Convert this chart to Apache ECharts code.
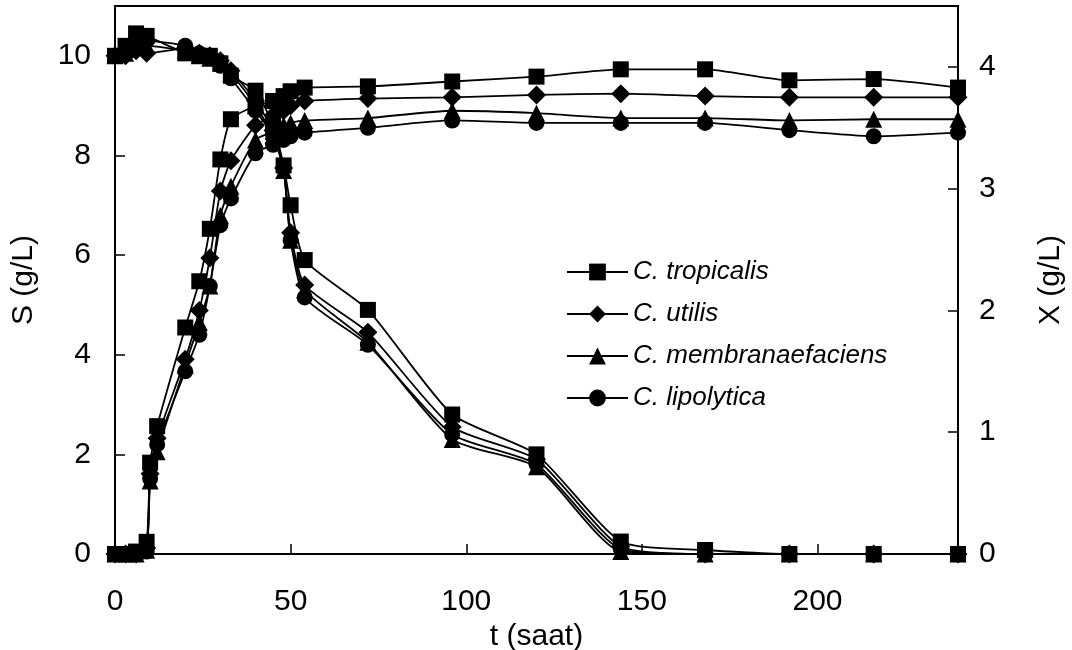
<!DOCTYPE html>
<html>
<head>
<meta charset="utf-8">
<script src="https://cdn.jsdelivr.net/npm/echarts@6/dist/echarts.min.js"></script>
<style>
  html, body { margin: 0; padding: 0; background: #fff; }
  #chart { width: 1072px; height: 650px; }
</style>
</head>
<body>
<div id="chart"></div>
<script>
// Yeast species and their marker shapes
const speciesNames = ['C. tropicalis', 'C. utilis', 'C. membranaefaciens', 'C. lipolytica'];
const speciesSymbols = ['rect', 'diamond', 'triangle', 'circle'];
const speciesSymbolSizes = [16, 19, 17, 16];

// Substrate S (g/L) sampling times (h) and values
const timeS = [0, 3, 6, 9, 20, 24, 27, 30, 33, 40, 45, 48, 50, 54, 72, 96, 120, 144, 168, 192, 216, 240];
const sTropicalis       = [10.0, 10.2, 10.45, 10.4, 10.05, 10.0, 10.0, 9.85, 9.6, 9.3, 8.6, 7.8, 7.0, 5.9, 4.9, 2.8, 2.0, 0.25, 0.08, 0, 0, 0];
const sUtilis           = [10.0, 10.0, 10.1, 10.05, 10.15, 10.05, 10.0, 9.9, 9.7, 9.1, 8.5, 7.75, 6.45, 5.4, 4.45, 2.55, 1.9, 0.15, 0, 0, 0, 0];
const sMembranaefaciens = [10.0, 10.05, 10.2, 10.2, 10.1, 10.0, 9.95, 9.85, 9.65, 9.0, 8.4, 7.7, 6.3, 5.3, 4.25, 2.3, 1.75, 0.05, 0, 0, 0, 0];
const sLipolytica       = [10.0, 10.1, 10.25, 10.3, 10.2, 10.05, 10.0, 9.8, 9.55, 8.9, 8.4, 7.75, 6.3, 5.15, 4.2, 2.4, 1.8, 0.1, 0, 0, 0, 0];

// Biomass X (g/L) sampling times (h) and values
const timeX = [0, 3, 6, 9, 10, 12, 20, 24, 27, 30, 33, 40, 45, 48, 50, 54, 72, 96, 120, 144, 168, 192, 216, 240];
const xTropicalis       = [0, 0, 0.02, 0.1, 0.75, 1.05, 1.86, 2.24, 2.67, 3.24, 3.57, 3.68, 3.72, 3.76, 3.8, 3.83, 3.84, 3.88, 3.92, 3.98, 3.98, 3.89, 3.9, 3.83];
const xUtilis           = [0, 0, 0, 0.05, 0.66, 0.95, 1.6, 2.0, 2.43, 2.98, 3.23, 3.52, 3.6, 3.64, 3.68, 3.72, 3.74, 3.75, 3.77, 3.78, 3.76, 3.75, 3.75, 3.75];
const xMembranaefaciens = [0, 0, 0, 0.03, 0.6, 0.84, 1.55, 1.9, 2.2, 2.78, 3.02, 3.4, 3.47, 3.52, 3.54, 3.56, 3.58, 3.64, 3.62, 3.58, 3.58, 3.56, 3.57, 3.57];
const xLipolytica       = [0, 0, 0, 0.02, 0.62, 0.9, 1.5, 1.8, 2.2, 2.7, 2.92, 3.29, 3.36, 3.4, 3.43, 3.46, 3.5, 3.56, 3.54, 3.54, 3.54, 3.48, 3.43, 3.46];

// Axis tick settings
const timeTicks = { min: 0, max: 240, interval: 50 };
const sTicks = { min: 0, max: 11, interval: 2 };
const xTicks = { min: 0, max: 4.5, interval: 1 };

const sSeries = [sTropicalis, sUtilis, sMembranaefaciens, sLipolytica];
const xSeries = [xTropicalis, xUtilis, xMembranaefaciens, xLipolytica];

const FONT = '"Liberation Sans", Arial, Helvetica, sans-serif';
const BLACK = '#000';

function pairs(times, values) {
  return times.map((t, i) => [t, values[i]]);
}

function makeSeries(name, symbol, size, data, yAxisIndex) {
  return {
    name: name,
    type: 'line',
    yAxisIndex: yAxisIndex,
    data: data,
    smooth: 0.2,
    symbol: symbol,
    symbolSize: size,
    showAllSymbol: true,
    lineStyle: { color: BLACK, width: 1.8 },
    itemStyle: { color: BLACK, borderColor: BLACK, borderWidth: 0 },
    emphasis: { disabled: true },
    z: 3
  };
}

const series = [];
speciesNames.forEach((name, i) => {
  series.push(makeSeries(name, speciesSymbols[i], speciesSymbolSizes[i], pairs(timeS, sSeries[i]), 0));
});
speciesNames.forEach((name, i) => {
  series.push(makeSeries(name, speciesSymbols[i], speciesSymbolSizes[i], pairs(timeX, xSeries[i]), 1));
});

const axisCommon = {
  axisLine: { show: true, lineStyle: { color: BLACK, width: 2 } },
  axisTick: { show: true, inside: true, length: 10, lineStyle: { color: BLACK, width: 1.5 } },
  splitLine: { show: false },
  nameLocation: 'middle',
  nameTextStyle: { fontFamily: FONT, fontSize: 30, color: BLACK }
};

const chart = echarts.init(document.getElementById('chart'), null, { renderer: 'canvas' });
chart.setOption({
  animation: false,
  backgroundColor: '#fff',
  textStyle: { fontFamily: FONT },
  grid: {
    left: 115, right: 114, top: 6, bottom: 96,
    outerBoundsMode: 'none',
    containLabel: false,
    show: true, borderColor: BLACK, borderWidth: 2, backgroundColor: 'transparent'
  },
  legend: {
    data: speciesNames,
    orient: 'vertical',
    left: 566,
    top: 258,
    padding: 0,
    itemWidth: 61,
    itemHeight: 21,
    itemGap: 14,
    selectedMode: false,
    textStyle: { fontFamily: FONT, fontSize: 26, fontStyle: 'italic', color: BLACK, lineHeight: 28 }
  },
  xAxis: Object.assign({}, axisCommon, {
    type: 'value',
    min: timeTicks.min, max: timeTicks.max, interval: timeTicks.interval,
    name: 't (saat)',
    nameGap: 61,
    axisLabel: { fontFamily: FONT, fontSize: 30, color: BLACK, margin: 33, showMaxLabel: false }
  }),
  yAxis: [
    Object.assign({}, axisCommon, {
      type: 'value', position: 'left',
      min: sTicks.min, max: sTicks.max, interval: sTicks.interval,
      name: 'S (g/L)', nameRotate: 90, nameGap: 76,
      axisLabel: { fontFamily: FONT, fontSize: 30, color: BLACK, margin: 24, showMaxLabel: false }
    }),
    Object.assign({}, axisCommon, {
      type: 'value', position: 'right',
      min: xTicks.min, max: xTicks.max, interval: xTicks.interval,
      name: 'X (g/L)', nameRotate: 90, nameGap: 78,
      axisLabel: { fontFamily: FONT, fontSize: 30, color: BLACK, margin: 21, showMaxLabel: false }
    })
  ],
  series: series
});
</script>
</body>
</html>
